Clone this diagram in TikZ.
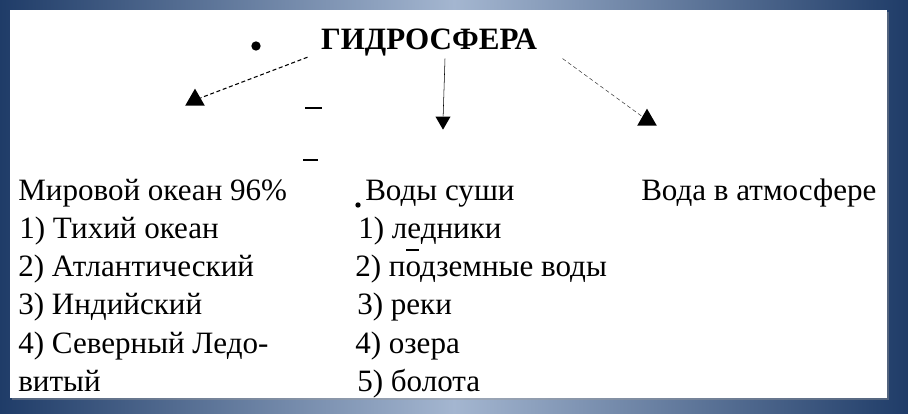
\documentclass[tikz,border=0pt]{standalone}
\usepackage{fontspec}
\setmainfont{Liberation Serif}
\usetikzlibrary{positioning,shapes.geometric}

\definecolor{navy}{HTML}{1F3C68}
\definecolor{paleblue}{HTML}{A4B6D0}

\tikzset{
  txt/.style={anchor=base west, inner sep=0pt, font=\fontsize{23.3}{28}\selectfont},
  tip/.style={fill=black, regular polygon, regular polygon sides=3, minimum size=17pt, inner sep=0pt},
}

\begin{document}
\begin{tikzpicture}[x=0.75pt, y=-0.75pt]
  \useasboundingbox (0,0) rectangle (908,414);
  \shade[left color=navy, right color=navy, middle color=paleblue] (0,0) rectangle (908,414);
  \fill[black!40, opacity=0.4] (12,12) rectangle (889,400);
  \fill[white] (10,10) rectangle (887,398);

  \node[txt, anchor=base, inner sep=2pt, font=\fontsize{23.3}{28}\selectfont\bfseries] (hydro) at (429,49) {ГИДРОСФЕРА};

  \node[tip] (t1) at (195,100) {};
  \node[tip, rotate=180, minimum size=13pt] (t2) at (443,121) {};
  \node[tip] (t3) at (647,120) {};

  \draw[thick, densely dashed, black] ([xshift=-8pt,yshift=1pt]hydro.south west) -- (t1);
  \draw[black] ([xshift=12pt]hydro.south) -- (t2);
  \draw[densely dashed, black!75] ([xshift=17pt]hydro.south east) -- (t3);

  % stray marks
  \fill (256,46) circle (3.5pt);
  \draw[line width=1.5pt] (305,108) -- (322,108);
  \draw[line width=1.5pt] (303,160) -- (318,160);
  \fill (358,205) circle (2pt);
  \draw[line width=1.2pt] (406,250) -- (419,250);

  \node[txt] (ocean) at (18,200) {Мировой океан 96\%};
  \node[txt] (o1) at (19,238) {1) Тихий океан};
  \node[txt] (o2) at (18,276) {2) Атлантический};
  \node[txt] (o3) at (18,314) {3) Индийский};
  \node[txt] (o4) at (18,353) {4) Северный Ледо-};
  \node[txt] (o5) at (18,391) {витый};

  \node[txt] (land) at (365,200) {Воды суши};
  \node[txt] (l1) at (358,238) {1) ледники};
  \node[txt] (l2) at (355,276) {2) подземные воды};
  \node[txt] (l3) at (357,314) {3) реки};
  \node[txt] (l4) at (355,353) {4) озера};
  \node[txt] (l5) at (357,391) {5) болота};

  \node[txt] (air) at (641,200) {Вода в атмосфере};
\end{tikzpicture}
\end{document}
